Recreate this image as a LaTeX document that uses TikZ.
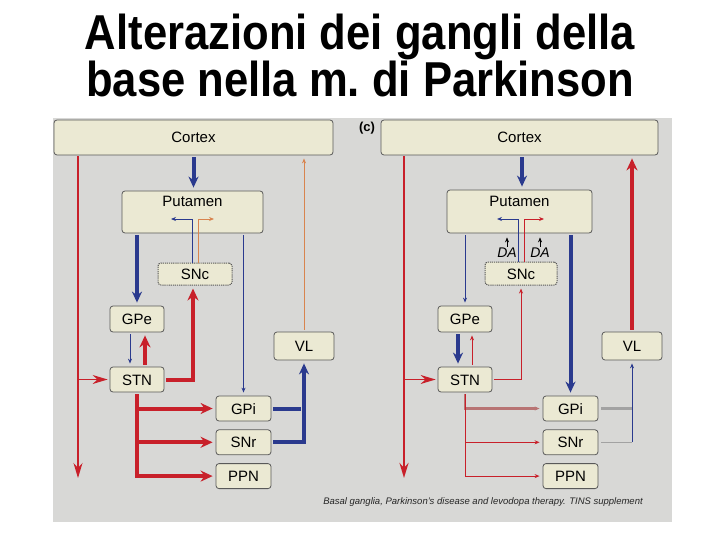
\documentclass[tikz,border=0pt]{standalone}
\usepackage{fontspec}
\setmainfont{Liberation Sans}
\newfontfamily\titlefont[FakeStretch=0.89]{Liberation Sans}
\usetikzlibrary{arrows.meta,positioning,calc}
\definecolor{panelgray}{HTML}{D8D8D6}
\definecolor{boxfill}{HTML}{EBE9D3}
\definecolor{nred}{HTML}{C8202A}
\definecolor{nblue}{HTML}{2A3A8E}
\definecolor{norange}{HTML}{D8844E}
\definecolor{ngray}{HTML}{A2A2A2}
\definecolor{mutedred}{HTML}{B87474}

\begin{document}
\begin{tikzpicture}[
    x=1pt, y=-1pt,
    box/.style={draw=black!65, fill=boxfill, rounded corners=3pt, line width=0.8pt,
                inner sep=0pt, text height=11pt, text depth=0pt,
                font=\fontsize{15}{15}\selectfont},
    snc/.style={box, line width=1pt, dash pattern=on 1.2pt off 0.9pt},
    fatblue/.style={line width=4pt, nblue, shorten <=2pt, shorten >=3pt,
                    -{Stealth[length=11pt,width=10pt]}},
    thinblue/.style={line width=1pt, nblue, shorten <=2pt, shorten >=3pt,
                     -{Stealth[length=5pt,width=4pt]}},
    fatred/.style={line width=4pt, nred, shorten <=2pt, shorten >=3pt,
                   -{Stealth[length=12pt,width=11pt]}},
    thinred/.style={line width=1pt, nred, shorten <=2pt, shorten >=3pt,
                    -{Stealth[length=5pt,width=4pt]}},
    redline/.style={nred, shorten <=1pt, shorten >=2pt,
                    -{Stealth[length=15pt,width=9pt]}},
    thinorange/.style={line width=0.9pt, norange, shorten <=2pt, shorten >=3pt,
                       -{Stealth[length=5pt,width=4pt]}},
    grayline/.style={ngray, shorten <=3pt},
    dalabel/.style={font=\itshape\fontsize{14}{14}\selectfont, inner sep=0pt}
  ]
  \useasboundingbox (0,0) rectangle (720,540);
  \fill[white] (0,0) rectangle (720,540);

  %% Title
  \node (title) [font=\titlefont\bfseries\fontsize{49}{47}\selectfont, align=center,
                 anchor=base] at (360,97) {Alterazioni dei gangli della\\base nella m.\ di Parkinson};

  %% Grey panel
  \fill[panelgray] (53,118) rectangle (672,522);
  \node (tagc) [font=\bfseries\fontsize{13}{13}\selectfont] at (367,128) {(c)};

  %% ---------- Left panel ----------
  \node (cortexL) [box, minimum width=279, minimum height=35] at (193.5,137.5) {Cortex};
  \node (putL)    [box, minimum width=141, minimum height=42, text height=13pt,
                   text depth=23pt] at (192.5,212) {Putamen};
  \node (sncL)    [snc, minimum width=74, minimum height=22] at (195,274) {SNc};
  \node (gpeL)    [box, minimum width=54, minimum height=26] at (137,319) {GPe};
  \node (stnL)    [box, minimum width=54, minimum height=25] at (137,379.5) {STN};
  \node (vlL)     [box, minimum width=60, minimum height=28] at (304,346) {VL};
  \node (gpiL)    [box, minimum width=55, minimum height=25] at (243.5,408.5) {GPi};
  \node (snrL)    [box, minimum width=55, minimum height=25, below=8pt of gpiL] {SNr};
  \node (ppnL)    [box, minimum width=55, minimum height=25, below=8pt of snrL] {PPN};

  \coordinate (downL) at (78,480);
  \coordinate (inBL)  at (168,219);
  \coordinate (inRL)  at (217,219);

  \draw[fatblue] (cortexL.south) -- (cortexL.south |- putL.north);
  \draw[redline, line width=1.2pt] (cortexL.south -| downL) -- (downL);
  \draw[redline, line width=1.2pt] (downL |- stnL.west) -- (stnL.west);
  \draw[fatblue] (putL.south -| gpeL.north) -- (gpeL.north);
  \draw[thinblue] (putL.south -| gpiL.north) -- (gpiL.north);
  \draw[thinblue, line width=0.8pt, shorten <=0pt] ([xshift=-3pt]sncL.north) |- (inBL);
  \draw[thinorange, line width=0.8pt, shorten <=0pt] ([xshift=3pt]sncL.north) |- (inRL);
  \draw[thinblue] ([xshift=-7pt]gpeL.south) -- ([xshift=-7pt]stnL.north);
  \draw[fatred] ([xshift=8pt]stnL.north) -- ([xshift=8pt]gpeL.south);
  \draw[fatred] (stnL.east) -| ([xshift=-2pt]sncL.south);
  \draw[fatred] (stnL.south) |- (gpiL.west);
  \draw[fatred] (stnL.south) |- (snrL.west);
  \draw[fatred] (stnL.south) |- (ppnL.west);
  \draw[fatblue, -] (gpiL.east) -- (gpiL.east -| vlL.south);
  \draw[fatblue] (snrL.east) -| (vlL.south);
  \draw[thinorange] (vlL.north) -- (vlL.north |- cortexL.south);

  %% ---------- Right panel ----------
  \node (cortexR) [box, minimum width=277, minimum height=35] at (519.5,137.5) {Cortex};
  \node (putR)    [box, minimum width=145, minimum height=43, text height=13pt,
                   text depth=23pt] at (519.5,211.5) {Putamen};
  \node (sncR)    [snc, minimum width=72, minimum height=23] at (521,273.5) {SNc};
  \node (gpeR)    [box, minimum width=54, minimum height=26] at (465,319) {GPe};
  \node (stnR)    [box, minimum width=54, minimum height=25] at (465,379.5) {STN};
  \node (vlR)     [box, minimum width=60, minimum height=28] at (632,346) {VL};
  \node (gpiR)    [box, minimum width=55, minimum height=25] at (570.5,408.5) {GPi};
  \node (snrR)    [box, minimum width=55, minimum height=25, below=8pt of gpiR] {SNr};
  \node (ppnR)    [box, minimum width=55, minimum height=25, below=8pt of snrR] {PPN};
  \node (daA)     [dalabel] at (507,253) {DA};
  \node (daB)     [dalabel] at (540,253) {DA};

  \coordinate (downR) at (404,480);
  \coordinate (inBR)  at (494,219);
  \coordinate (inRR)  at (547,219);

  \draw[fatblue] (cortexR.south -| 522,0) -- (putR.north -| 522,0);
  \draw[redline, line width=2.4pt] (cortexR.south -| downR) -- (downR);
  \draw[redline, line width=1.4pt] (downR |- stnR.west) -- (stnR.west);
  \draw[thinblue] (putR.south -| gpeR.north) -- (gpeR.north);
  \draw[fatblue] (putR.south -| gpiR.north) -- (gpiR.north);
  \draw[thinblue, line width=0.8pt, shorten <=0pt] ([xshift=-3pt]sncR.north) |- (inBR);
  \draw[thinred, line width=0.8pt, shorten <=0pt] ([xshift=3pt]sncR.north) |- (inRR);
  \draw[black, line width=0.6pt, shorten <=1pt, shorten >=4pt, -{Stealth[length=5pt,width=4pt]}]
    (daA.north) -- (daA.north |- putR.south);
  \draw[black, line width=0.6pt, shorten <=1pt, shorten >=4pt, -{Stealth[length=5pt,width=4pt]}]
    (daB.north) -- (daB.north |- putR.south);
  \draw[fatblue] ([xshift=-7pt]gpeR.south) -- ([xshift=-7pt]stnR.north);
  \draw[thinred] ([xshift=7pt]stnR.north) -- ([xshift=7pt]gpeR.south);
  \draw[thinred] (stnR.east) -| (sncR.south);
  \draw[thinred, mutedred, line width=2.6pt] (stnR.south) |- (gpiR.west);
  \draw[thinred] (stnR.south) |- (snrR.west);
  \draw[thinred] (stnR.south) |- (ppnR.west);
  \draw[grayline, line width=3pt] (gpiR.east) -- (gpiR.east -| vlR.south);
  \draw[grayline, line width=1pt] (snrR.east) -- (snrR.east -| vlR.south);
  \draw[thinblue, shorten <=0pt] (snrR.east -| vlR.south) -- (vlR.south);
  \draw[fatred] (vlR.north) -- (vlR.north |- cortexR.south);

  %% Source line
  \node (src) [font=\itshape\fontsize{9.5}{10}\selectfont, text=black!85] at (483,502)
    {Basal ganglia, Parkinson's disease and levodopa therapy. TINS supplement};

\end{tikzpicture}
\end{document}
